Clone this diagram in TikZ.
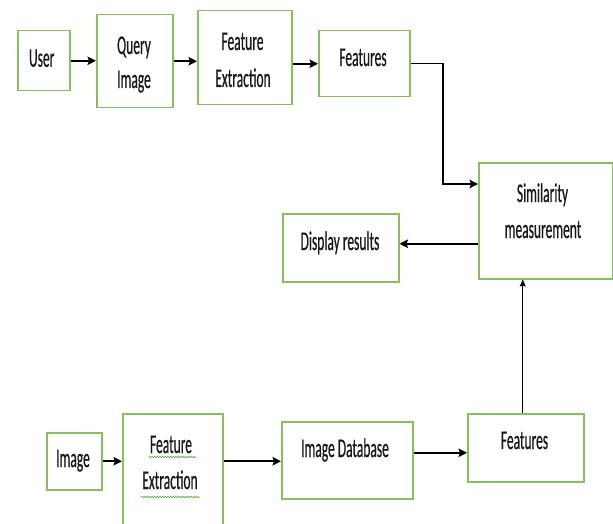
\documentclass[tikz,border=0pt]{standalone}
\usepackage{fontspec}
\setmainfont{Carlito}[FakeStretch=0.5,FakeBold=0.5]
\usetikzlibrary{arrows.meta,decorations.pathmorphing}
\definecolor{boxgreen}{RGB}{135,190,95}
\definecolor{squig}{RGB}{90,170,60}
\begin{document}
\begin{tikzpicture}[x=1pt,y=-1pt,
  box/.style={draw=boxgreen, line width=1.5pt, inner sep=0pt, anchor=north west},
  txt/.style={font=\fontsize{27}{32}\selectfont, inner sep=0pt, anchor=base, text=black!90},
  arr/.style={line width=1.8pt, -{Stealth[length=8.5pt,width=8.5pt,inset=1.5pt]}},
  thinarr/.style={line width=1.1pt, -{Stealth[length=7pt,width=6pt,inset=1pt]}},
  squiggle/.style={draw=squig, line width=0.6pt, decorate, decoration={snake, amplitude=0.8pt, segment length=2.6pt}}]
\useasboundingbox[fill=white] (0,0) rectangle (613,524);

% boxes
\node[box, minimum width=52pt,  minimum height=60pt]  (user)  at (17,30)  {};
\node[box, minimum width=76pt,  minimum height=93pt]  (query) at (96,14)  {};
\node[box, minimum width=94pt,  minimum height=94pt]  (fe1)   at (197,10) {};
\node[box, minimum width=91pt,  minimum height=66pt]  (feat1) at (318,30) {};
\node[box, minimum width=134pt, minimum height=116pt] (sim)   at (478,162) {};
\node[box, minimum width=116pt, minimum height=68pt]  (disp)  at (282,213) {};
\node[box, minimum width=55pt,  minimum height=57pt]  (img)   at (46,432) {};
\node[box, minimum width=100pt, minimum height=130pt] (fe2)   at (122,413) {};
\node[box, minimum width=131pt, minimum height=77pt]  (db)    at (281,421) {};
\node[box, minimum width=116pt, minimum height=68pt]  (feat2) at (467,413) {};

% texts
\node[txt] (tuser)  at (41.7,66.7) {User};
\node[txt] (tq1)    at (134,54)    {Query};
\node[txt] (tq2)    at (134,88)    {Image};
\node[txt] (tfe1a)  at (242.5,50)  {Feature};
\node[txt] (tfe1b)  at (243,87)    {Extraction};
\node[txt] (tfeat1) at (363,66)    {Features};
\node[txt] (tsim1)  at (542.5,202) {Similarity};
\node[txt] (tsim2)  at (543,238)   {measurement};
\node[txt] (tdisp)  at (340,250)   {Display results};
\node[txt] (timg)   at (73,467)    {Image};
\node[txt] (tfe2a)  at (171,453)   {Feature};
\node[txt] (tfe2b)  at (170,489)   {Extraction};
\node[txt] (tdb)    at (345,457)   {Image Database};
\node[txt] (tfeat2) at (524.5,449) {Features};

% spell-check squiggles
\draw[squiggle] ([xshift=-1pt,yshift=-4pt]tfe2a.base west) -- ([xshift=4pt,yshift=-4pt]tfe2a.base east);
\draw[squiggle] ([xshift=-1pt,yshift=-8pt]tfe2b.base west) -- ([xshift=2pt,yshift=-8pt]tfe2b.base east);

% connectors
\draw[arr] (user.east) -- (query.west |- user.east);
\draw[arr] (query.east) -- (fe1.west |- query.east);
\draw[arr] (fe1.east |- feat1.west) -- (feat1.west);
\coordinate (bend) at (443,184);
\draw[arr, line width=1.5pt] (feat1.east) -| (bend) -- (sim.west |- bend);
\coordinate (dispin) at ([yshift=4pt]disp.east);
\draw[arr] (sim.west |- dispin) -- (dispin);
\draw[arr] (img.east) -- (fe2.west |- img.east);
\draw[arr] (fe2.east |- img.east) -- (db.west |- img.east);
\coordinate (dbout) at ([yshift=7.5pt]db.east);
\draw[arr] (dbout) -- (feat2.west |- dbout);
\coordinate (upstart) at ([xshift=-3pt]feat2.north);
\draw[thinarr] (upstart) -- (sim.south -| upstart);
\end{tikzpicture}
\end{document}
